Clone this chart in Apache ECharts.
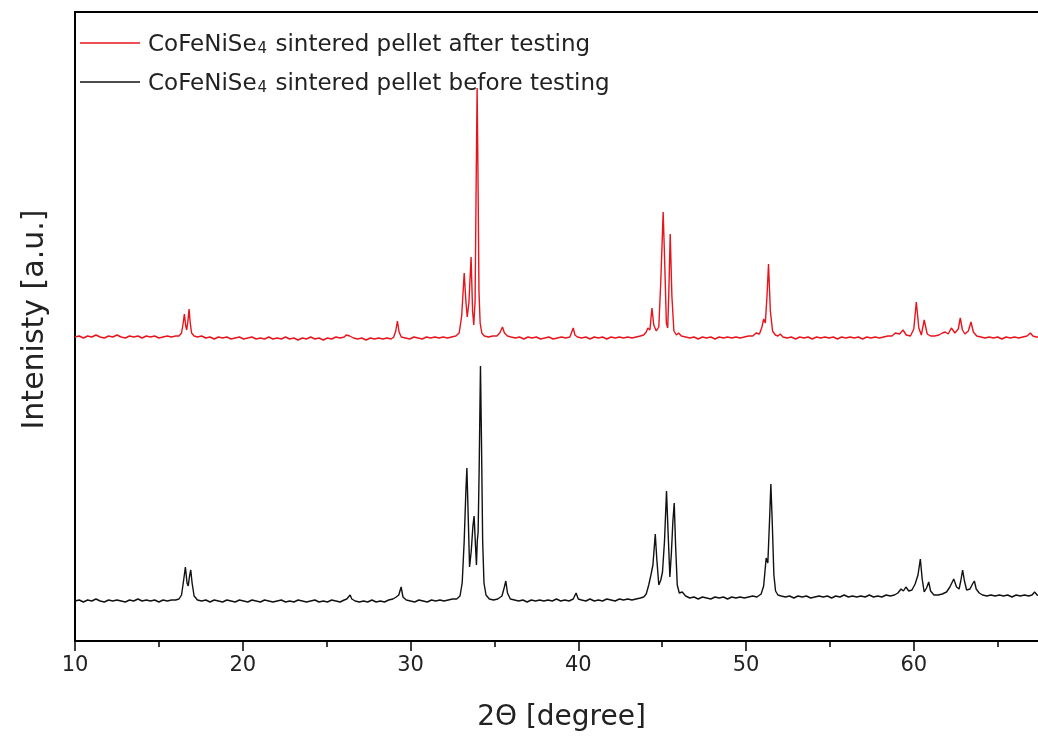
<!DOCTYPE html>
<html>
<head>
<meta charset="utf-8">
<script src="https://cdn.jsdelivr.net/npm/echarts@6/dist/echarts.min.js"></script>
<style>
html,body{margin:0;padding:0;background:#fff;overflow:hidden;}
#chart{width:1070px;height:745px;}
</style>
</head>
<body>
<div id="chart"></div>
<script>
const seriesNames = ['CoFeNiSe4 sintered pellet after testing', 'CoFeNiSe4 sintered pellet before testing'];
const xTickLabels = [10, 20, 30, 40, 50, 60];

const afterData = [
[10.0,304],[10.25,305],[10.5,303],[10.75,305],[11.0,304],[11.25,306],[11.5,304],[11.75,303],[12.0,305],[12.25,304],[12.5,306],[12.75,304],[13.0,303],[13.25,305],[13.5,304],[13.75,305],[14.0,303],[14.25,305],[14.5,304],[14.75,305],[15.0,303],[15.25,304],[15.5,305],[15.75,304],[16.0,305],[16.2,305],[16.35,308],[16.45,318],[16.52,327],[16.6,315],[16.66,311],[16.73,320],[16.8,332],[16.87,318],[16.95,308],[17.1,305],[17.3,304],[17.55,305],[17.8,303],[18.05,304],[18.3,302],[18.55,304],[18.8,303],[19.05,304],[19.3,302],[19.55,303],[19.8,304],[20.05,302],[20.3,303],[20.55,304],[20.8,302],[21.05,303],[21.3,302],[21.55,304],[21.8,302],[22.05,303],[22.3,302],[22.55,304],[22.8,302],[23.05,303],[23.3,301],[23.55,303],[23.8,302],[24.05,304],[24.3,302],[24.55,303],[24.8,301],[25.05,303],[25.3,302],[25.55,304],[25.8,303],[26.05,304],[26.17,306],[26.26,308],[26.38,305],[26.6,303],[26.85,302],[27.1,303],[27.35,301],[27.6,303],[27.85,302],[28.1,303],[28.35,302],[28.6,303],[28.85,302],[29.0,304],[29.12,310],[29.22,320],[29.32,309],[29.45,304],[29.7,303],[29.95,302],[30.2,304],[30.45,303],[30.7,302],[30.95,304],[31.2,303],[31.45,304],[31.7,303],[31.95,304],[32.2,303],[32.45,304],[32.7,305],[32.9,308],[33.05,325],[33.2,368],[33.3,340],[33.38,324],[33.48,338],[33.61,384],[33.7,330],[33.77,316],[33.85,340],[33.92,470],[33.97,553],[34.02,470],[34.08,350],[34.15,318],[34.25,308],[34.4,305],[34.65,304],[34.9,305],[35.15,305],[35.32,308],[35.48,314],[35.6,308],[35.78,305],[36.0,304],[36.25,303],[36.5,304],[36.75,302],[37.0,304],[37.25,303],[37.5,304],[37.75,302],[38.0,303],[38.25,304],[38.5,302],[38.75,303],[39.0,304],[39.25,303],[39.5,304],[39.6,306],[39.7,313],[39.8,306],[39.95,304],[40.2,303],[40.45,304],[40.7,302],[40.95,304],[41.2,303],[41.45,304],[41.7,302],[41.95,304],[42.2,303],[42.45,304],[42.7,303],[42.95,304],[43.2,303],[43.45,304],[43.7,305],[43.9,306],[44.05,309],[44.15,313],[44.27,311],[44.39,333],[44.5,316],[44.65,310],[44.8,314],[44.92,360],[45.06,429],[45.15,380],[45.25,318],[45.33,313],[45.4,350],[45.48,407],[45.58,345],[45.7,310],[45.85,306],[45.98,308],[46.15,305],[46.4,304],[46.65,303],[46.9,304],[47.15,302],[47.4,304],[47.65,303],[47.9,304],[48.15,302],[48.4,304],[48.65,303],[48.9,304],[49.15,303],[49.4,304],[49.65,303],[49.9,304],[50.15,305],[50.4,305],[50.6,308],[50.8,307],[50.95,314],[51.05,322],[51.15,318],[51.25,345],[51.34,377],[51.45,330],[51.58,310],[51.75,306],[51.9,305],[52.04,307],[52.2,304],[52.45,303],[52.7,304],[52.95,302],[53.2,304],[53.45,303],[53.7,304],[53.95,302],[54.2,304],[54.45,303],[54.7,304],[54.95,303],[55.2,304],[55.45,302],[55.7,304],[55.95,303],[56.2,304],[56.45,303],[56.7,304],[56.95,302],[57.2,304],[57.45,303],[57.7,304],[57.95,303],[58.2,304],[58.45,305],[58.7,305],[58.9,308],[59.0,310],[59.15,307],[59.36,311],[59.55,306],[59.8,305],[60.0,312],[60.15,339],[60.3,313],[60.45,306],[60.62,321],[60.8,307],[61.0,305],[61.25,305],[61.5,306],[61.7,308],[61.88,309],[62.05,307],[62.24,313],[62.45,308],[62.65,312],[62.77,323],[62.9,311],[63.05,307],[63.25,310],[63.41,319],[63.55,309],[63.75,305],[64.0,304],[64.25,303],[64.5,304],[64.75,303],[65.0,304],[65.25,302],[65.5,304],[65.75,303],[66.0,304],[66.25,303],[66.5,304],[66.75,305],[66.95,308],[67.1,305],[67.3,304],[67.6,304],[68.0,305]
];

const beforeData = [
[10.0,40],[10.25,41],[10.5,39],[10.75,41],[11.0,40],[11.25,42],[11.5,40],[11.75,39],[12.0,41],[12.25,40],[12.5,41],[12.75,40],[13.0,39],[13.25,41],[13.5,40],[13.75,42],[14.0,40],[14.25,41],[14.5,40],[14.75,41],[15.0,39],[15.25,41],[15.5,40],[15.75,41],[16.0,41],[16.2,42],[16.35,46],[16.47,60],[16.58,74],[16.68,58],[16.75,55],[16.82,64],[16.9,71],[16.98,58],[17.1,45],[17.3,41],[17.55,40],[17.8,41],[18.05,39],[18.3,41],[18.55,40],[18.8,39],[19.05,41],[19.3,40],[19.55,39],[19.8,41],[20.05,40],[20.3,39],[20.55,41],[20.8,40],[21.05,39],[21.3,41],[21.55,40],[21.8,39],[22.05,40],[22.3,41],[22.55,39],[22.8,40],[23.05,39],[23.3,41],[23.55,40],[23.8,39],[24.05,40],[24.3,41],[24.55,39],[24.8,40],[25.05,39],[25.3,41],[25.55,40],[25.8,39],[26.05,41],[26.2,42],[26.3,44],[26.4,46],[26.5,42],[26.7,40],[26.95,39],[27.2,40],[27.45,39],[27.7,41],[27.95,39],[28.2,40],[28.45,39],[28.7,41],[28.95,42],[29.15,44],[29.3,46],[29.44,54],[29.55,44],[29.75,41],[30.0,40],[30.25,39],[30.5,41],[30.75,40],[31.0,39],[31.25,41],[31.5,40],[31.75,41],[32.0,40],[32.25,41],[32.5,42],[32.75,42],[32.95,45],[33.08,58],[33.2,100],[33.3,150],[33.36,173],[33.43,130],[33.52,74],[33.62,90],[33.72,115],[33.79,125],[33.86,100],[33.93,76],[33.98,100],[34.03,109],[34.09,170],[34.17,275],[34.23,200],[34.3,100],[34.38,58],[34.5,46],[34.7,42],[34.95,41],[35.2,42],[35.45,45],[35.58,53],[35.68,60],[35.78,48],[35.95,42],[36.2,41],[36.45,40],[36.7,41],[36.95,39],[37.2,41],[37.45,40],[37.7,41],[37.95,40],[38.2,41],[38.45,40],[38.7,42],[38.95,40],[39.2,41],[39.45,40],[39.7,42],[39.87,48],[40.0,42],[40.2,41],[40.45,40],[40.7,42],[40.95,40],[41.2,41],[41.45,40],[41.7,42],[41.95,41],[42.2,40],[42.45,42],[42.7,41],[42.95,42],[43.2,41],[43.45,42],[43.7,43],[43.9,44],[44.05,47],[44.2,56],[44.33,66],[44.45,76],[44.59,107],[44.68,82],[44.8,56],[44.92,61],[45.02,69],[45.14,100],[45.26,150],[45.35,110],[45.46,64],[45.55,88],[45.64,120],[45.72,138],[45.8,96],[45.9,56],[46.02,48],[46.2,49],[46.4,45],[46.65,43],[46.9,44],[47.15,42],[47.4,44],[47.65,43],[47.9,42],[48.15,44],[48.4,43],[48.65,44],[48.9,42],[49.15,44],[49.4,43],[49.65,44],[49.9,43],[50.15,44],[50.4,45],[50.65,44],[50.9,47],[51.05,55],[51.2,83],[51.3,78],[51.4,120],[51.48,157],[51.56,120],[51.66,66],[51.76,50],[51.9,46],[52.1,45],[52.35,44],[52.6,45],[52.85,43],[53.1,45],[53.35,44],[53.6,45],[53.85,43],[54.1,44],[54.35,45],[54.6,44],[54.85,45],[55.1,43],[55.35,45],[55.6,44],[55.85,46],[56.1,44],[56.35,45],[56.6,44],[56.85,45],[57.1,44],[57.35,46],[57.6,44],[57.85,45],[58.1,44],[58.35,46],[58.6,45],[58.85,46],[59.05,48],[59.24,52],[59.38,50],[59.53,54],[59.7,50],[59.89,51],[60.08,57],[60.25,66],[60.39,82],[60.5,62],[60.62,49],[60.76,53],[60.89,59],[61.0,50],[61.2,46],[61.45,46],[61.7,47],[61.95,49],[62.15,54],[62.38,62],[62.55,54],[62.7,52],[62.8,60],[62.91,71],[63.02,60],[63.15,51],[63.35,52],[63.5,57],[63.61,60],[63.72,52],[63.9,48],[64.1,46],[64.35,45],[64.6,46],[64.85,45],[65.1,46],[65.35,45],[65.6,46],[65.85,44],[66.1,46],[66.35,45],[66.6,46],[66.85,45],[67.05,46],[67.2,49],[67.35,46],[67.6,45],[68.0,46]
];

const FONT = 'DejaVu Sans';
const chart = echarts.init(document.getElementById('chart'), null, {renderer: 'canvas'});
chart.setOption({
  animation: false,
  backgroundColor: '#fff',
  textStyle: {fontFamily: FONT},
  grid: {left: 75, top: 12, width: 973, height: 629, show: true, borderColor: '#000', borderWidth: 2, backgroundColor: 'transparent'},
  legend: {
    orient: 'vertical', left: 80, top: 34, padding: 0, itemGap: 16,
    itemWidth: 60, itemHeight: 1.5, icon: 'rect',
    formatter: name => '{a|' + name.replace('4', '}{s|4}{a|') + '}',
    textStyle: {
      fontFamily: FONT, fontSize: 23, color: '#222', padding: [0, 0, 0, 3],
      rich: {
        a: {fontFamily: FONT, fontSize: 23, color: '#222', lineHeight: 28, verticalAlign: 'bottom'},
        s: {fontFamily: FONT, fontSize: 15, color: '#222', lineHeight: 8, verticalAlign: 'bottom', padding: [0, 1, 0, 1]}
      }
    },
    data: seriesNames
  },
  xAxis: [{
    type: 'value', min: 10, max: 68, interval: 10,
    axisLine: {show: true, lineStyle: {color: '#000', width: 2}},
    axisTick: {show: true, length: 10, lineStyle: {color: '#000', width: 1.5}},
    axisLabel: {fontSize: 21, color: '#222', margin: 14, showMaxLabel: false,
      formatter: v => xTickLabels.indexOf(v) >= 0 ? String(v) : ''},
    splitLine: {show: false},
    name: '2\u0398 [degree]', nameLocation: 'middle', nameGap: 63,
    nameTextStyle: {fontSize: 28, color: '#222'}
  }, {
    type: 'value', min: 10, max: 68, interval: 5, position: 'bottom',
    axisLine: {show: false},
    axisTick: {show: true, length: 6, lineStyle: {color: '#000', width: 1.5}},
    axisLabel: {show: false},
    splitLine: {show: false}
  }],
  yAxis: {
    type: 'value', min: 0, max: 629,
    axisLine: {show: true, lineStyle: {color: '#000', width: 2}},
    axisTick: {show: false}, axisLabel: {show: false}, splitLine: {show: false},
    name: 'Intenisty [a.u.]', nameLocation: 'middle', nameGap: 25,
    nameTextStyle: {fontSize: 30, color: '#222', padding: [0, 0, 0, 14]}
  },
  series: [
    {name: seriesNames[0], type: 'line', xAxisIndex: 0, data: afterData, showSymbol: false, symbol: 'none',
     lineStyle: {color: '#e8141c', width: 1.4}, itemStyle: {color: '#e8141c'}},
    {name: seriesNames[1], type: 'line', xAxisIndex: 0, data: beforeData, showSymbol: false, symbol: 'none',
     lineStyle: {color: '#111', width: 1.4}, itemStyle: {color: '#111'}}
  ]
});
</script>
</body>
</html>
